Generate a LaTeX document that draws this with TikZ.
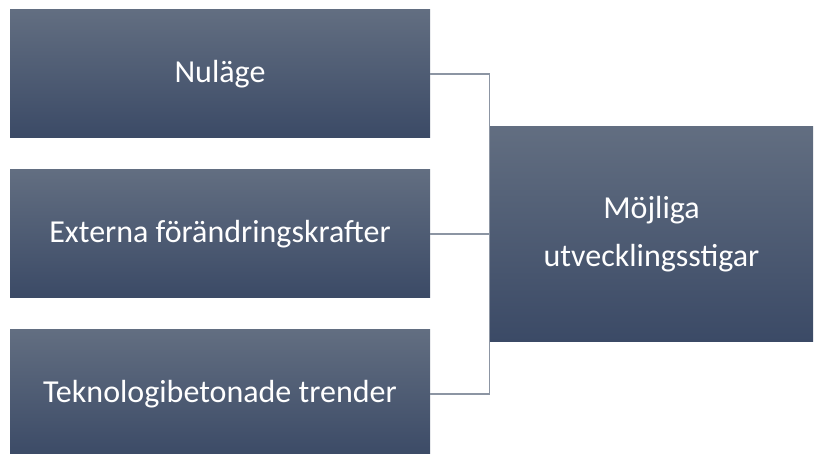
\documentclass[tikz,border=0pt]{standalone}
\usepackage{fontspec}
\setmainfont{Carlito}
\usepackage{xcolor}
\definecolor{boxtop}{HTML}{626E81}
\definecolor{boxbot}{HTML}{3B4A66}
\definecolor{linegray}{HTML}{8C95A3}

\begin{document}
\begin{tikzpicture}[x=1pt, y=-1pt,
  box/.style={rectangle, top color=boxtop, bottom color=boxbot, text=white,
    inner sep=0pt, align=center, font=\fontsize{32}{48}\selectfont},
  link/.style={draw=linegray, line width=1.2pt}]
\useasboundingbox (0,0) rectangle (814,454);

\node[box, minimum width=420pt, minimum height=128pt] (nulage) at (220,74) {Nuläge};
\node[box, minimum width=420pt, minimum height=128pt] (externa) at (220,234) {Externa förändringskrafter};
\node[box, minimum width=420pt, minimum height=128pt] (trender) at (220,394) {Teknologibetonade trender};

\node[box, minimum width=323pt, minimum height=215pt] (mojliga) at (651.5,234) {Möjliga\\utvecklingsstigar};

\draw[link] (nulage.east) -| (mojliga.west);
\draw[link] (externa.east) -- (mojliga.west);
\draw[link] (trender.east) -| (mojliga.west);
\end{tikzpicture}
\end{document}
